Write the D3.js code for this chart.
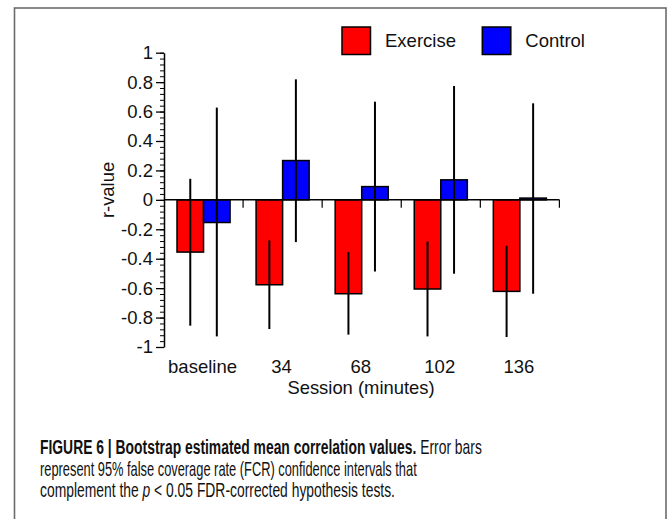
<!DOCTYPE html>
<html>
<head>
<meta charset="utf-8">
<script src="https://cdn.jsdelivr.net/npm/d3@7"></script>
<style>
  html, body { margin: 0; padding: 0; background: #fff; }
  svg { display: block; }
  text { font-family: "Liberation Sans", Arial, Helvetica, sans-serif; fill: #111; }
  .cap { font-family: "Liberation Sans Narrow", "Liberation Sans", Arial, sans-serif; }
</style>
</head>
<body>
<svg id="chart" width="669" height="519"></svg>
<script>
const sessions = ["baseline", "34", "68", "102", "136"];
const series = ["Exercise", "Control"];
const colors = ["#ff0000", "#0000ff"];
const exerciseMean = [-0.355, -0.577, -0.638, -0.606, -0.622];
const exerciseLow  = [-0.855, -0.878, -0.916, -0.928, -0.932];
const exerciseHigh = [0.143, -0.276, -0.355, -0.283, -0.312];
const controlMean  = [-0.154, 0.267, 0.09, 0.136, 0.012];
const controlLow   = [-0.928, -0.287, -0.487, -0.502, -0.638];
const controlHigh  = [0.627, 0.819, 0.667, 0.774, 0.656];
const yTicks = [-1, -0.8, -0.6, -0.4, -0.2, 0, 0.2, 0.4, 0.6, 0.8, 1];

const rows = [];
sessions.forEach((s, i) => {
  rows.push({ session: s, series: "Exercise", mean: exerciseMean[i], lo: exerciseLow[i], hi: exerciseHigh[i] });
  rows.push({ session: s, series: "Control", mean: controlMean[i], lo: controlLow[i], hi: controlHigh[i] });
});

const svg = d3.select("#chart");

// frame
svg.append("rect").attr("x", 14.5).attr("y", 8).attr("width", 651.5).attr("height", 530)
  .attr("fill", "none").attr("stroke", "#6b6b6b").attr("stroke-width", 1.6);

const x0 = d3.scaleBand().domain(sessions).range([164, 559.4]).paddingInner(0).paddingOuter(0);
const x1 = d3.scaleBand().domain(series).range([0, x0.bandwidth()]).paddingInner(0).paddingOuter(0.49);
const y = d3.scaleLinear().domain([-1, 1]).range([347, 52.7]);
const color = d3.scaleOrdinal().domain(series).range(colors);

// bars
svg.append("g").selectAll("rect").data(rows).join("rect")
  .attr("x", d => x0(d.session) + x1(d.series))
  .attr("width", x1.bandwidth())
  .attr("y", d => y(Math.max(0, d.mean)))
  .attr("height", d => Math.abs(y(d.mean) - y(0)))
  .attr("fill", d => color(d.series))
  .attr("stroke", "#000").attr("stroke-width", 1.5);

// x axis (zero line)
const xAxisG = svg.append("g").attr("transform", `translate(0,${y(0)})`);
xAxisG.append("line").attr("x1", x0.range()[0]).attr("x2", x0.range()[1])
  .attr("stroke", "#000").attr("stroke-width", 1.5);
xAxisG.selectAll("line.tk").data(sessions).join("line").attr("class", "tk")
  .attr("x1", d => x0(d) + x0.bandwidth()).attr("x2", d => x0(d) + x0.bandwidth())
  .attr("y1", 0).attr("y2", 8).attr("stroke", "#000").attr("stroke-width", 1.2);

// error bars
svg.append("g").selectAll("line").data(rows).join("line")
  .attr("x1", d => x0(d.session) + x1(d.series) + x1.bandwidth() / 2)
  .attr("x2", d => x0(d.session) + x1(d.series) + x1.bandwidth() / 2)
  .attr("y1", d => y(d.lo)).attr("y2", d => y(d.hi))
  .attr("stroke", "#000").attr("stroke-width", 2);

// y axis minor ticks
const minor = d3.range(-1, 1.0001, 0.04).map(v => +v.toFixed(2));
svg.append("g").attr("transform", "translate(164,0)")
  .call(d3.axisLeft(y).tickValues(minor).tickSize(4).tickSizeOuter(0).tickFormat(""))
  .call(g => g.select(".domain").remove())
  .call(g => g.selectAll("line").attr("stroke", "#000").attr("stroke-width", 1));

// y axis major
const yAxisG = svg.append("g").attr("transform", "translate(164,0)")
  .call(d3.axisLeft(y).tickValues(yTicks).tickSize(8).tickSizeOuter(0).tickPadding(3)
    .tickFormat(d => String(+d.toFixed(1))));
yAxisG.select(".domain").attr("stroke", "#000").attr("stroke-width", 1.5);
yAxisG.selectAll(".tick line").attr("stroke", "#000").attr("stroke-width", 1.3);
yAxisG.selectAll(".tick text").attr("font-size", 18.5).attr("fill", "#111")
  .attr("font-family", "Liberation Sans, Arial, sans-serif");

// category labels
svg.append("g").selectAll("text").data(sessions).join("text")
  .attr("x", d => x0(d) + x0.bandwidth() / 2 - 1)
  .attr("y", 373).attr("text-anchor", "middle").attr("font-size", 18.5).text(d => d);

svg.append("text").attr("x", 361).attr("y", 393.5).attr("text-anchor", "middle")
  .attr("font-size", 18.4).text("Session (minutes)");

svg.append("text").attr("transform", "translate(114,190) rotate(-90)")
  .attr("text-anchor", "middle").attr("font-size", 18.4).text("r-value");

// legend
const leg = svg.append("g").selectAll("g").data(series).join("g")
  .attr("transform", (d, i) => `translate(${i === 0 ? 342 : 482.3},27)`);
leg.append("rect").attr("width", 28.5).attr("height", 27.5)
  .attr("fill", d => color(d)).attr("stroke", "#000").attr("stroke-width", 1.5);
leg.append("text").attr("x", 43).attr("y", 19.5).attr("font-size", 18.5).text(d => d);

// caption: each line is fitted to its width by a horizontal scale
function capLine(yPos, targetW, parts) {
  const g = svg.append("g");
  const t = g.append("text").attr("class", "cap").attr("x", 0).attr("y", 0)
    .attr("font-size", 20.5).attr("fill", "#222");
  parts.forEach(p => {
    const s = t.append("tspan").text(p.t);
    if (p.b) s.attr("font-weight", "bold").attr("fill", "#111");
    if (p.i) s.attr("font-style", "italic");
  });
  const w = t.node().getComputedTextLength();
  g.attr("transform", `translate(40,${yPos}) scale(${targetW / w},1)`);
}
capLine(454, 442, [
  { t: "FIGURE 6 | Bootstrap estimated mean correlation values.", b: true },
  { t: " Error bars" }
]);
capLine(475.5, 377, [{ t: "represent 95% false coverage rate (FCR) confidence intervals that" }]);
capLine(497, 355, [
  { t: "complement the " }, { t: "p", i: true }, { t: " < 0.05 FDR-corrected hypothesis tests." }
]);
</script>
</body>
</html>
